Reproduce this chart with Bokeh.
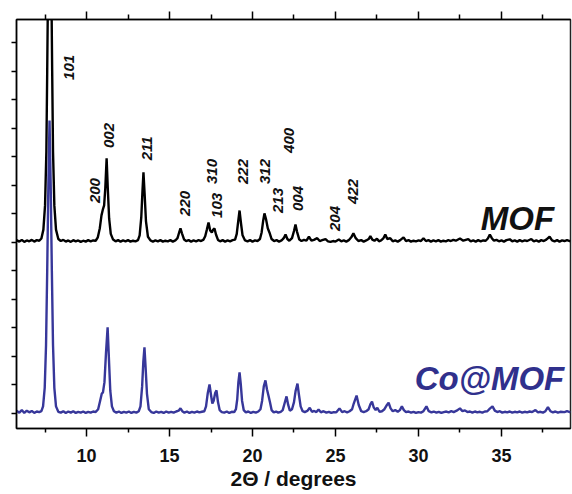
import math
from bokeh.plotting import figure
from bokeh.models import Range1d, FixedTicker, LinearAxis, Label
from bokeh.embed import file_html
from bokeh.resources import INLINE
from bokeh.core.properties import value

# ---------------- data ----------------
# MOF pattern (offset baseline ~6.05), (2theta, intensity in arbitrary units)
mof_points = [
    (5.78, 6.08), (5.95, 6.03), (6.10, 6.09), (6.25, 6.02), (6.40, 6.07), (6.55, 6.04), (6.70, 6.09), (6.85, 6.03), (7.00, 6.08), (7.15, 6.06), (7.28, 6.14),
    (7.40, 6.45), (7.50, 7.30), (7.58, 9.20), (7.63, 12.0), (7.68, 15.0), (7.78, 18.0), (7.88, 15.0), (7.93, 12.0), (7.98, 9.2), (8.06, 7.3), (8.16, 6.45), (8.30, 6.12),
    (8.45, 6.05), (8.60, 6.09), (8.75, 6.03), (8.90, 6.07), (9.05, 6.02), (9.20, 6.08), (9.35, 6.04), (9.50, 6.07), (9.65, 6.02), (9.80, 6.06), (9.95, 6.03), (10.10, 6.08), (10.25, 6.04), (10.40, 6.07), (10.55, 6.06),
    (10.68, 6.18), (10.80, 6.50), (10.90, 6.95), (10.98, 7.15), (11.06, 7.30), (11.13, 7.90), (11.21, 8.95), (11.28, 7.90), (11.36, 6.85), (11.46, 6.30), (11.60, 6.10),
    (11.75, 6.04), (11.90, 6.08), (12.05, 6.03), (12.20, 6.07), (12.35, 6.04), (12.50, 6.08), (12.65, 6.03), (12.80, 6.06), (12.95, 6.04), (13.10, 6.08),
    (13.20, 6.25), (13.30, 6.90), (13.37, 7.80), (13.43, 8.46), (13.50, 7.70), (13.58, 6.75), (13.70, 6.20), (13.85, 6.07),
    (14.00, 6.03), (14.15, 6.07), (14.30, 6.04), (14.45, 6.08), (14.60, 6.03), (14.75, 6.06), (14.90, 6.04), (15.05, 6.08), (15.20, 6.03), (15.35, 6.07),
    (15.48, 6.15), (15.58, 6.35), (15.66, 6.49), (15.75, 6.32), (15.88, 6.10),
    (16.00, 6.05), (16.15, 6.08), (16.30, 6.03), (16.45, 6.07), (16.60, 6.04), (16.75, 6.08), (16.90, 6.05), (17.05, 6.10),
    (17.15, 6.22), (17.25, 6.45), (17.35, 6.70), (17.45, 6.42), (17.55, 6.35), (17.63, 6.45), (17.71, 6.49), (17.80, 6.28), (17.92, 6.09),
    (18.05, 6.04), (18.20, 6.08), (18.35, 6.03), (18.50, 6.07), (18.65, 6.04), (18.80, 6.08), (18.95, 6.10),
    (19.05, 6.30), (19.14, 6.75), (19.22, 7.12), (19.30, 6.70), (19.40, 6.25), (19.55, 6.07),
    (19.70, 6.04), (19.85, 6.08), (20.00, 6.03), (20.15, 6.07), (20.30, 6.05), (20.45, 6.12),
    (20.55, 6.35), (20.64, 6.75), (20.72, 7.02), (20.82, 6.80), (20.92, 6.50), (21.02, 6.35), (21.15, 6.12), (21.30, 6.05),
    (21.45, 6.08), (21.60, 6.03), (21.75, 6.07), (21.88, 6.15), (21.99, 6.28), (22.10, 6.12), (22.22, 6.06),
    (22.38, 6.15), (22.50, 6.40), (22.59, 6.63), (22.68, 6.38), (22.82, 6.10),
    (22.95, 6.05), (23.10, 6.09), (23.25, 6.06), (23.40, 6.20), (23.55, 6.06), (23.70, 6.09), (23.90, 6.15), (24.05, 6.05), (24.20, 6.08), (24.40, 6.12), (24.55, 6.04),
    (24.70, 6.02), (24.85, 6.05), (25.00, 6.03), (25.20, 6.10), (25.35, 6.04), (25.50, 6.07), (25.65, 6.03), (25.80, 6.08), (25.95, 6.18), (26.08, 6.32), (26.22, 6.15), (26.38, 6.05),
    (26.55, 6.08), (26.70, 6.03), (26.85, 6.07), (27.00, 6.12), (27.10, 6.22), (27.22, 6.10), (27.35, 6.06), (27.50, 6.13), (27.62, 6.04), (27.75, 6.07), (27.88, 6.14), (28.00, 6.28), (28.12, 6.12), (28.30, 6.15), (28.45, 6.04),
    (28.60, 6.07), (28.75, 6.03), (28.90, 6.08), (29.10, 6.18), (29.25, 6.05), (29.40, 6.08), (29.55, 6.03), (29.70, 6.06), (29.85, 6.04), (30.00, 6.07), (30.15, 6.05), (30.30, 6.15), (30.45, 6.05), (30.60, 6.08),
    (30.75, 6.03), (30.90, 6.07), (31.05, 6.04), (31.20, 6.08), (31.35, 6.03), (31.50, 6.06), (31.65, 6.04), (31.80, 6.08), (31.95, 6.05), (32.10, 6.09), (32.25, 6.06), (32.50, 6.14), (32.70, 6.06), (32.85, 6.09), (33.00, 6.12), (33.15, 6.04),
    (33.30, 6.07), (33.45, 6.03), (33.60, 6.08), (33.75, 6.04), (33.90, 6.07), (34.05, 6.06), (34.18, 6.14), (34.30, 6.28), (34.42, 6.15), (34.55, 6.06), (34.70, 6.09),
    (34.85, 6.04), (35.00, 6.07), (35.15, 6.03), (35.30, 6.08), (35.50, 6.11), (35.65, 6.04), (35.80, 6.07), (35.95, 6.03), (36.10, 6.08), (36.25, 6.04), (36.40, 6.07), (36.55, 6.05), (36.80, 6.12), (36.95, 6.04),
    (37.10, 6.07), (37.25, 6.03), (37.40, 6.08), (37.55, 6.05), (37.70, 6.10), (37.90, 6.20), (38.05, 6.07), (38.20, 6.04), (38.35, 6.08), (38.50, 6.03), (38.65, 6.07), (38.80, 6.05),
    (38.95, 6.08), (39.16, 6.04),
]

# Co@MOF pattern (baseline ~0.05)
co_points = [
    (5.78, 0.10), (5.95, 0.03), (6.10, 0.12), (6.25, 0.02), (6.40, 0.10), (6.55, 0.04), (6.70, 0.09), (6.85, 0.02), (7.00, 0.07), (7.15, 0.05), (7.28, 0.08),
    (7.38, 0.25), (7.48, 0.90), (7.56, 2.40), (7.63, 5.00), (7.70, 8.00), (7.77, 10.28), (7.84, 8.00), (7.91, 5.00), (7.98, 2.40), (8.06, 0.90), (8.16, 0.25), (8.30, 0.06),
    (8.45, 0.03), (8.60, 0.08), (8.75, 0.02), (8.90, 0.07), (9.05, 0.03), (9.20, 0.08), (9.35, 0.02), (9.50, 0.06), (9.65, 0.03), (9.80, 0.07), (9.95, 0.02), (10.10, 0.06), (10.25, 0.03), (10.40, 0.07), (10.55, 0.05),
    (10.70, 0.15), (10.82, 0.45), (10.92, 0.70), (10.99, 0.74), (11.08, 1.10), (11.17, 2.10), (11.27, 3.02), (11.35, 1.90), (11.43, 0.80), (11.53, 0.25), (11.65, 0.08),
    (11.80, 0.03), (11.95, 0.07), (12.10, 0.02), (12.25, 0.06), (12.40, 0.03), (12.55, 0.07), (12.70, 0.02), (12.85, 0.06), (13.00, 0.03), (13.15, 0.08),
    (13.25, 0.25), (13.35, 0.95), (13.42, 1.80), (13.49, 2.32), (13.56, 1.60), (13.64, 0.70), (13.75, 0.15), (13.90, 0.05),
    (14.05, 0.02), (14.20, 0.07), (14.35, 0.03), (14.50, 0.06), (14.65, 0.02), (14.80, 0.07), (14.95, 0.03), (15.10, 0.06), (15.25, 0.03), (15.40, 0.07),
    (15.55, 0.10), (15.66, 0.18), (15.77, 0.08), (15.90, 0.03),
    (16.05, 0.07), (16.20, 0.02), (16.35, 0.06), (16.50, 0.03), (16.65, 0.07), (16.80, 0.04), (16.95, 0.06), (17.10, 0.08),
    (17.20, 0.25), (17.30, 0.70), (17.41, 1.02), (17.50, 0.65), (17.58, 0.35), (17.66, 0.45), (17.75, 0.72), (17.83, 0.81), (17.92, 0.40), (18.02, 0.12), (18.15, 0.05),
    (18.30, 0.03), (18.45, 0.07), (18.60, 0.02), (18.75, 0.06), (18.90, 0.05), (19.00, 0.15),
    (19.08, 0.50), (19.15, 1.10), (19.22, 1.44), (19.29, 1.05), (19.37, 0.45), (19.47, 0.12), (19.60, 0.04),
    (19.75, 0.07), (19.90, 0.02), (20.05, 0.06), (20.20, 0.03), (20.35, 0.07), (20.48, 0.15),
    (20.58, 0.45), (20.68, 0.95), (20.78, 1.16), (20.87, 0.85), (20.96, 0.63), (21.05, 0.40), (21.15, 0.12), (21.28, 0.04),
    (21.42, 0.07), (21.55, 0.03), (21.70, 0.06), (21.82, 0.12), (21.93, 0.35), (22.05, 0.60), (22.15, 0.30), (22.25, 0.10),
    (22.38, 0.15), (22.50, 0.40), (22.60, 0.80), (22.71, 1.05), (22.80, 0.65), (22.90, 0.25), (23.02, 0.08),
    (23.15, 0.05), (23.30, 0.09), (23.45, 0.20), (23.58, 0.06), (23.72, 0.09), (23.85, 0.05), (23.98, 0.14), (24.12, 0.04), (24.28, 0.08), (24.45, 0.03),
    (24.60, 0.06), (24.75, 0.02), (24.90, 0.05), (25.05, 0.04), (25.24, 0.18), (25.40, 0.05), (25.55, 0.08), (25.70, 0.04), (25.85, 0.08), (26.00, 0.15),
    (26.10, 0.35), (26.27, 0.63), (26.40, 0.30), (26.55, 0.08), (26.70, 0.05), (26.85, 0.08), (27.00, 0.15), (27.10, 0.32), (27.20, 0.42), (27.30, 0.22), (27.42, 0.12), (27.52, 0.20), (27.65, 0.06),
    (27.80, 0.08), (27.95, 0.15), (28.10, 0.30), (28.20, 0.38), (28.32, 0.18), (28.45, 0.08), (28.60, 0.12), (28.75, 0.06), (28.88, 0.12), (29.00, 0.25), (29.12, 0.12), (29.25, 0.05),
    (29.40, 0.07), (29.55, 0.03), (29.70, 0.06), (29.85, 0.02), (30.00, 0.05), (30.15, 0.03), (30.30, 0.08), (30.48, 0.25), (30.62, 0.08), (30.78, 0.04),
    (30.92, 0.07), (31.08, 0.03), (31.22, 0.06), (31.38, 0.02), (31.52, 0.05), (31.68, 0.07), (31.82, 0.04), (31.98, 0.08), (32.12, 0.05), (32.30, 0.10), (32.50, 0.18), (32.65, 0.08), (32.80, 0.11), (32.95, 0.05),
    (33.10, 0.07), (33.25, 0.03), (33.40, 0.07), (33.55, 0.04), (33.70, 0.06), (33.85, 0.03), (34.00, 0.07), (34.15, 0.08), (34.30, 0.17), (34.46, 0.25), (34.60, 0.10), (34.75, 0.05),
    (34.90, 0.08), (35.05, 0.03), (35.20, 0.06), (35.35, 0.04), (35.50, 0.07), (35.65, 0.03), (35.80, 0.06), (35.95, 0.04), (36.10, 0.07), (36.25, 0.03), (36.40, 0.06), (36.55, 0.04),
    (36.70, 0.07), (36.85, 0.05), (37.05, 0.12), (37.20, 0.04), (37.35, 0.06), (37.50, 0.03), (37.65, 0.08), (37.80, 0.22), (37.95, 0.08), (38.10, 0.04), (38.25, 0.07), (38.40, 0.03), (38.55, 0.06), (38.80, 0.05),
    (38.95, 0.08), (39.16, 0.04),
]

# Miller-index annotations (text and anchor in data units)
hkl_text = ["101", "200", "002", "211", "220", "310", "103", "222", "312", "213", "400", "004", "204", "422"]
hkl_x = [8.92, 10.48, 11.33, 13.67, 15.96, 17.53, 17.89, 19.40, 20.78, 21.51, 22.17, 22.77, 25.00, 26.08]
hkl_y = [12.14, 7.82, 9.75, 9.30, 7.37, 8.49, 7.30, 8.49, 8.49, 7.47, 9.58, 7.54, 6.84, 7.79]

x_major = [10, 15, 20, 25, 30, 35]
x_minor = [7.5, 12.5, 17.5, 22.5, 27.5, 32.5, 37.5]
y_ticks = list(range(0, 14))

series_names = ["MOF", "Co@MOF"]

# ---------------- figure ----------------
FONT = "Liberation Sans"
BLUE = "#37379a"

mof_x = [pt[0] for pt in mof_points]
mof_y = [pt[1] for pt in mof_points]
co_x = [pt[0] for pt in co_points]
co_y = [pt[1] for pt in co_points]

p = figure(
    frame_width=554, frame_height=409,
    x_range=Range1d(5.78, 39.16), y_range=Range1d(-0.526, 13.82),
    output_backend="svg", toolbar_location=None,
    min_border_left=16, min_border_top=19, min_border_right=2, min_border_bottom=66,
)
p.grid.visible = False
p.outline_line_color = "#222222"
p.outline_line_width = 1.5
p.background_fill_color = "white"
p.border_fill_color = "white"

xa = p.xaxis[0]
xa.ticker = FixedTicker(ticks=x_major, minor_ticks=x_minor)
xa.major_tick_in = 0
xa.major_tick_out = 8
xa.minor_tick_in = 0
xa.minor_tick_out = 4
xa.axis_line_width = 1.5
xa.major_tick_line_width = 1.5
xa.minor_tick_line_width = 1.5
xa.major_label_text_font = FONT
xa.major_label_text_font_style = "bold"
xa.major_label_text_font_size = "18px"
xa.major_label_text_color = "#111111"
xa.major_label_standoff = 12
xa.axis_label = "2Θ / degrees"
xa.axis_label_text_font = FONT
xa.axis_label_text_font_style = "bold"
xa.axis_label_text_font_size = "21px"
xa.axis_label_text_color = "#111111"
xa.axis_label_standoff = 2

ya = p.yaxis[0]
ya.ticker = FixedTicker(ticks=y_ticks, minor_ticks=[])
ya.major_tick_in = 0
ya.major_tick_out = 5
ya.minor_tick_out = 0
ya.axis_line_width = 1.5
ya.major_tick_line_width = 1.5
ya.major_label_overrides = {t: "" for t in y_ticks}
ya.major_label_standoff = 0

top = LinearAxis(ticker=FixedTicker(ticks=x_major, minor_ticks=x_minor))
top.major_tick_in = 0
top.major_tick_out = 8
top.minor_tick_in = 0
top.minor_tick_out = 5
top.axis_line_width = 1.5
top.major_tick_line_width = 1.5
top.minor_tick_line_width = 1.5
top.major_label_overrides = {t: "" for t in x_major}
top.major_label_standoff = 0
p.add_layout(top, "above")

p.line(mof_x, mof_y, line_color="black", line_width=2.4)
p.line(co_x, co_y, line_color=BLUE, line_width=2.4)

p.text(x=hkl_x, y=hkl_y, text=hkl_text, angle=math.pi / 2,
       text_align="center", text_baseline="middle",
       text_font=value(FONT), text_font_style="bold italic",
       text_font_size="15px", text_color="#111111")

p.add_layout(Label(x=35.96, y=6.84, text=series_names[0], text_align="center",
                   text_baseline="alphabetic", text_font=FONT,
                   text_font_style="bold italic", text_font_size="33px",
                   text_color="#111111"))
p.add_layout(Label(x=34.28, y=1.23, text=series_names[1], text_align="center",
                   text_baseline="alphabetic", text_font=FONT,
                   text_font_style="bold italic", text_font_size="33px",
                   text_color="#30308c"))

open("out.html", "w").write(file_html(p, INLINE))
